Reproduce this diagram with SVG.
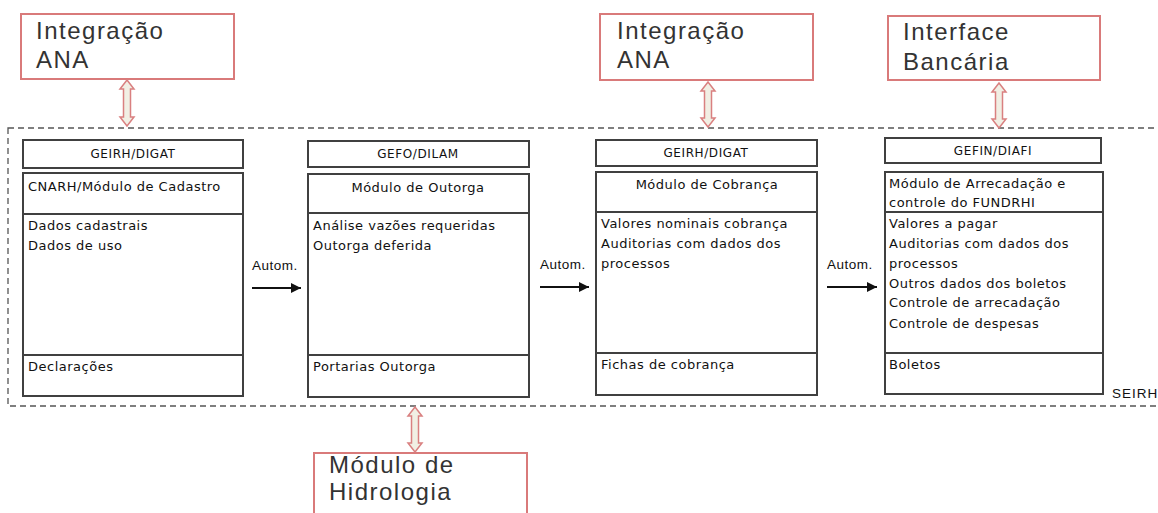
<svg xmlns="http://www.w3.org/2000/svg" width="1158" height="513" viewBox="0 0 1158 513">
<defs>
<style>
.ext{fill:#fff;stroke:#d97a7a;stroke-width:2}
.big{font-family:"Liberation Sans",Arial,sans-serif;font-size:24px;fill:#333;letter-spacing:1.5px}
.box{fill:#fff;stroke:#404040;stroke-width:2}
.div{stroke:#404040;stroke-width:2}
.t{font-family:"DejaVu Sans",Verdana,sans-serif;font-size:13px;fill:#111;letter-spacing:0.5px}
.hd{font-family:"DejaVu Sans",Verdana,sans-serif;font-size:12px;fill:#111;text-anchor:middle;letter-spacing:0.6px}
.hm{font-family:"DejaVu Sans",Verdana,sans-serif;font-size:13px;fill:#111;text-anchor:middle;letter-spacing:0.5px}
.lbl{font-family:"Liberation Sans",Arial,sans-serif;font-size:13.5px;fill:#111;letter-spacing:0.5px}
.dbl{fill:#f1efe4;stroke:#d98080;stroke-width:1.5}
.flow{stroke:#111;stroke-width:1.8;fill:none}
</style>
<marker id="ah" viewBox="0 0 10 10" refX="10" refY="5" markerWidth="11" markerHeight="10" markerUnits="userSpaceOnUse" orient="auto">
<path d="M0,0 L10,5 L0,10 z" fill="#111"/>
</marker>
</defs>
<rect width="1158" height="513" fill="#fff"/>

<g id="seirh">
<rect x="8" y="128" width="1170" height="278" fill="none" stroke="#555" stroke-width="1.3" stroke-dasharray="6,4"/>
<text x="1112" y="398" class="lbl" style="letter-spacing:1px">SEIRH</text>
</g>

<g id="ext-ana1">
<rect x="21" y="14" width="213" height="65" class="ext"/>
<text x="36" y="39" class="big">Integração</text>
<text x="36" y="68" class="big">ANA</text>
</g>
<g id="ext-ana2">
<rect x="600" y="14" width="213" height="66" class="ext"/>
<text x="617" y="39" class="big">Integração</text>
<text x="617" y="68" class="big">ANA</text>
</g>
<g id="ext-banco">
<rect x="888" y="16" width="212" height="64" class="ext"/>
<text x="903" y="40" class="big">Interface</text>
<text x="903" y="70" class="big">Bancária</text>
</g>
<g id="ext-hidro">
<rect x="314" y="453" width="213" height="70" class="ext"/>
<text x="329" y="473" class="big">Módulo de</text>
<text x="329" y="500" class="big">Hidrologia</text>
</g>

<g id="cadastro">
<rect x="23" y="140" width="220" height="28" class="box"/>
<text x="133" y="158" class="hd">GEIRH/DIGAT</text>
<rect x="23" y="173" width="220" height="223" class="box"/>
<line x1="23" y1="214" x2="243" y2="214" class="div"/>
<line x1="23" y1="355" x2="243" y2="355" class="div"/>
<text x="28" y="191" class="t">CNARH/Módulo de Cadastro</text>
<text x="28" y="230" class="t">Dados cadastrais</text>
<text x="28" y="250" class="t">Dados de uso</text>
<text x="28" y="371" class="t">Declarações</text>
</g>

<g id="outorga">
<rect x="308" y="141" width="221" height="26" class="box"/>
<text x="418" y="158" class="hd">GEFO/DILAM</text>
<rect x="308" y="174" width="221" height="223" class="box"/>
<line x1="308" y1="213" x2="529" y2="213" class="div"/>
<line x1="308" y1="355" x2="529" y2="355" class="div"/>
<text x="418" y="192" class="hm">Módulo de Outorga</text>
<text x="313" y="230" class="t">Análise vazões requeridas</text>
<text x="313" y="250" class="t">Outorga deferida</text>
<text x="313" y="371" class="t">Portarias Outorga</text>
</g>

<g id="cobranca">
<rect x="596" y="140" width="221" height="26" class="box"/>
<text x="706" y="157" class="hd">GEIRH/DIGAT</text>
<rect x="596" y="172" width="221" height="223" class="box"/>
<line x1="596" y1="212" x2="817" y2="212" class="div"/>
<line x1="596" y1="353" x2="817" y2="353" class="div"/>
<text x="707" y="189" class="hm">Módulo de Cobrança</text>
<text x="601" y="228" class="t">Valores nominais cobrança</text>
<text x="601" y="248" class="t">Auditorias com dados dos</text>
<text x="601" y="268" class="t">processos</text>
<text x="601" y="369" class="t">Fichas de cobrança</text>
</g>

<g id="arrecadacao">
<rect x="885" y="138" width="216" height="25" class="box"/>
<text x="993" y="155" class="hd">GEFIN/DIAFI</text>
<rect x="885" y="172" width="218" height="222" class="box"/>
<line x1="885" y1="212" x2="1103" y2="212" class="div"/>
<line x1="885" y1="353" x2="1103" y2="353" class="div"/>
<text x="889" y="188" class="t">Módulo de Arrecadação e</text>
<text x="889" y="207" class="t">controle do FUNDRHI</text>
<text x="889" y="228" class="t">Valores a pagar</text>
<text x="889" y="248" class="t">Auditorias com dados dos</text>
<text x="889" y="268" class="t">processos</text>
<text x="889" y="288" class="t">Outros dados dos boletos</text>
<text x="889" y="307" class="t">Controle de arrecadação</text>
<text x="889" y="328" class="t">Controle de despesas</text>
<text x="889" y="369" class="t">Boletos</text>
</g>

<g id="connectors">
<text x="252" y="270" class="lbl">Autom.</text>
<line x1="252" y1="288" x2="301" y2="288" class="flow" marker-end="url(#ah)"/>
<text x="540" y="269" class="lbl">Autom.</text>
<line x1="540" y1="287" x2="589" y2="287" class="flow" marker-end="url(#ah)"/>
<text x="827" y="269" class="lbl">Autom.</text>
<line x1="827" y1="287" x2="877" y2="287" class="flow" marker-end="url(#ah)"/>
<path class="dbl" d="M127,80 L134,89 L130.5,89 L130.5,117 L134,117 L127,126 L120,117 L123.5,117 L123.5,89 L120,89 Z"/>
<path class="dbl" d="M708,82 L715,91 L711.5,91 L711.5,118 L715,118 L708,127 L701,118 L704.5,118 L704.5,91 L701,91 Z"/>
<path class="dbl" d="M999,83 L1006,92 L1002.5,92 L1002.5,119 L1006,119 L999,128 L992,119 L995.5,119 L995.5,92 L992,92 Z"/>
<path class="dbl" d="M415,407 L422,416 L418.5,416 L418.5,443 L422,443 L415,452 L408,443 L411.5,443 L411.5,416 L408,416 Z"/>
</g>
</svg>
